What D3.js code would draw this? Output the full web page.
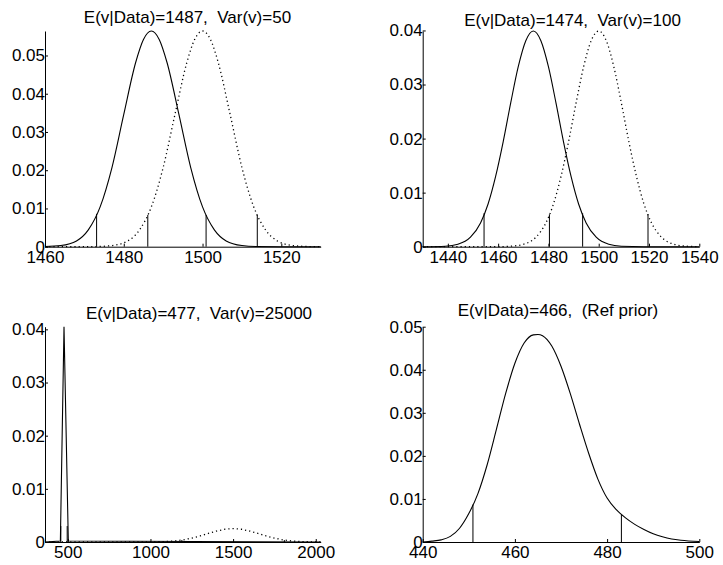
<!DOCTYPE html>
<html>
<head>
<meta charset="utf-8">
<script src="https://cdn.jsdelivr.net/npm/d3@7/dist/d3.min.js"></script>
<style>
  body { margin: 0; background: #fff; }
  svg text { font-family: "Liberation Sans", Arial, sans-serif; fill: #000; }
</style>
</head>
<body>
<svg id="chart" width="723" height="565"></svg>
<script>
// Titles of the four panels
const titles = [
    "E(v|Data)=1487,  Var(v)=50",
    "E(v|Data)=1474,  Var(v)=100",
    "E(v|Data)=477,  Var(v)=25000",
    "E(v|Data)=466,  (Ref prior)"
];

// Tick labels
const p1XTicks = [1460, 1480, 1500, 1520];
const p2XTicks = [1440, 1460, 1480, 1500, 1520, 1540];
const p3XTicks = [500, 1000, 1500, 2000];
const p4XTicks = [440, 460, 480, 500];
const p1YTicks = [0, 0.01, 0.02, 0.03, 0.04, 0.05];
const p2YTicks = [0, 0.01, 0.02, 0.03, 0.04];
const p3YTicks = [0, 0.01, 0.02, 0.03, 0.04];
const p4YTicks = [0, 0.01, 0.02, 0.03, 0.04, 0.05];

// Panel 1: posterior (solid) and prior (dotted) densities
const p1PostX = [1460, 1464, 1468, 1471, 1474, 1477, 1480, 1483, 1485, 1487, 1489, 1491, 1494, 1497, 1500, 1503, 1506, 1510, 1514, 1520, 1530];
const p1PostY = [0.00004, 0.0003, 0.0015, 0.0044, 0.0104, 0.0207, 0.0346, 0.0481, 0.0542, 0.0564, 0.0542, 0.0481, 0.0346, 0.0207, 0.0104, 0.0044, 0.0015, 0.0003, 0.00004, 0, 0];
const p1PriorX = [1460, 1470, 1473, 1477, 1481, 1484, 1487, 1490, 1493, 1496, 1498, 1500, 1502, 1504, 1507, 1510, 1513, 1516, 1519, 1523, 1527, 1530];
const p1PriorY = [0, 0.00001, 0.00004, 0.0003, 0.0015, 0.0044, 0.0104, 0.0207, 0.0346, 0.0481, 0.0542, 0.0564, 0.0542, 0.0481, 0.0346, 0.0207, 0.0104, 0.0044, 0.0015, 0.0003, 0.00004, 0.00001];
const p1Limits = [1473.1, 1500.9, 1486.1, 1513.9];
const p1LimitH = [0.0086, 0.0083, 0.0083, 0.0083];

// Panel 2
const p2PostX = [1430, 1439, 1444, 1449, 1453, 1456, 1459, 1462, 1465, 1468, 1471, 1474, 1477, 1480, 1483, 1486, 1489, 1492, 1495, 1499, 1504, 1509, 1518, 1540];
const p2PostY = [0, 0.00009, 0.00044, 0.00175, 0.0044, 0.0079, 0.0130, 0.0194, 0.0266, 0.0333, 0.0381, 0.0399, 0.0381, 0.0333, 0.0266, 0.0194, 0.0130, 0.0079, 0.0044, 0.00175, 0.00044, 0.00009, 0, 0];
const p2PriorX = [1430, 1460, 1465, 1470, 1475, 1479, 1482, 1485, 1488, 1491, 1494, 1497, 1500, 1503, 1506, 1509, 1512, 1515, 1518, 1521, 1525, 1530, 1535, 1540];
const p2PriorY = [0, 0.00001, 0.00009, 0.00044, 0.00175, 0.0044, 0.0079, 0.0130, 0.0194, 0.0266, 0.0333, 0.0381, 0.0399, 0.0381, 0.0333, 0.0266, 0.0194, 0.0130, 0.0079, 0.0044, 0.00175, 0.00044, 0.00009, 0.00001];
const p2Limits = [1454.4, 1493.6, 1480.4, 1519.6];
const p2LimitH = [0.0062, 0.0062, 0.006, 0.006];

// Panel 3
const p3PostX = [362, 455, 477, 503, 2030];
const p3PostY = [0, 0.0002, 0.0405, 0.0002, 0];
const p3PriorX = [362, 800, 900, 1000, 1050, 1100, 1150, 1200, 1250, 1300, 1350, 1400, 1450, 1500, 1550, 1600, 1650, 1700, 1750, 1800, 1850, 1900, 1950, 2000, 2030];
const p3PriorY = [0, 0, 0.000002, 0.000017, 0.000044, 0.000103, 0.000218, 0.000417, 0.000723, 0.001134, 0.001609, 0.002066, 0.0024, 0.002523, 0.0024, 0.002066, 0.001609, 0.001134, 0.000723, 0.000417, 0.000218, 0.000103, 0.000044, 0.000017, 0.000009];
const p3Limits = [457.7, 496.3, 1190, 1810];
const p3LimitH = [0.003, 0.003, 0.00037, 0.00037];

// Panel 4 (reference prior, posterior only)
const p4PostX = [440, 442, 444, 446, 448, 450, 452, 454, 456, 458, 460, 462, 464, 465, 466, 468, 470, 472, 474, 476, 478, 480, 482, 484, 486, 488, 490, 492, 494, 496, 500];
const p4PostY = [0, 0.0002, 0.0005, 0.0013, 0.0032, 0.0066, 0.0113, 0.018, 0.0262, 0.0345, 0.0415, 0.0462, 0.0481, 0.0482, 0.0479, 0.0455, 0.0408, 0.0345, 0.0274, 0.0206, 0.0146, 0.0102, 0.0075, 0.0056, 0.0041, 0.0029, 0.0019, 0.0012, 0.0007, 0.0004, 0.0001];
const p4Limits = [450.9, 483.1];
const p4LimitH = [0.0087, 0.0064];

const svg = d3.select("#chart");

const panels = [
    { left: 45, right: 320.7, top: 31, bottom: 246.7, xDomain: [1460, 1530], yMax: 0.0564,
      xTicks: p1XTicks, yTicks: p1YTicks, title: titles[0], tx: 187.5, ty: 23, smooth: true,
      lines: [{ x: p1PostX, y: p1PostY }, { x: p1PriorX, y: p1PriorY, dotted: true }],
      limits: p1Limits, limitH: p1LimitH },
    { left: 422.7, right: 699.3, top: 31, bottom: 246.7, xDomain: [1430, 1540], yMax: 0.0399,
      xTicks: p2XTicks, yTicks: p2YTicks, title: titles[1], tx: 572.5, ty: 25.5, smooth: true,
      lines: [{ x: p2PostX, y: p2PostY }, { x: p2PriorX, y: p2PriorY, dotted: true }],
      limits: p2Limits, limitH: p2LimitH },
    { left: 45, right: 320.7, top: 326.7, bottom: 542, xDomain: [362, 2030], yMax: 0.0405,
      xTicks: p3XTicks, yTicks: p3YTicks, title: titles[2], tx: 199, ty: 319, smooth: false,
      lines: [{ x: p3PostX, y: p3PostY }, { x: p3PriorX, y: p3PriorY, dotted: true }],
      limits: p3Limits, limitH: p3LimitH },
    { left: 422.7, right: 699.3, top: 326.7, bottom: 542, xDomain: [440, 500], yMax: 0.05,
      xTicks: p4XTicks, yTicks: p4YTicks, title: titles[3], tx: 558, ty: 316, smooth: true,
      lines: [{ x: p4PostX, y: p4PostY }],
      limits: p4Limits, limitH: p4LimitH }
];

const yFmt = d => d === 0 ? "0" : d3.format(".2f")(d);

panels.forEach(p => {
    const x = d3.scaleLinear().domain(p.xDomain).range([p.left, p.right]);
    const y = d3.scaleLinear().domain([0, p.yMax]).range([p.bottom, p.top]);
    const g = svg.append("g");

    // curves
    const line = d3.line()
        .x(d => x(d[0]))
        .y(d => y(d[1]))
        .curve(p.smooth ? d3.curveMonotoneX : d3.curveLinear);

    p.lines.forEach(s => {
        g.append("path")
            .datum(s.x.map((v, i) => [v, s.y[i]]))
            .attr("d", line)
            .attr("fill", "none")
            .attr("stroke", "#000")
            .attr("stroke-width", s.dotted ? 1.3 : 1.1)
            .attr("stroke-dasharray", s.dotted ? "1.2 3" : null);
    });

    // 95% interval lines
    p.limits.forEach((v, i) => {
        g.append("line")
            .attr("x1", x(v)).attr("x2", x(v))
            .attr("y1", y(0)).attr("y2", y(p.limitH[i]))
            .attr("stroke", "#000")
            .attr("stroke-width", 1);
    });

    // axes (ticks pointing inwards, like the original)
    g.append("g")
        .attr("transform", `translate(0,${p.bottom})`)
        .call(d3.axisBottom(x).tickValues(p.xTicks).tickSizeInner(-3).tickSizeOuter(0).tickPadding(4).tickFormat(d3.format("d")))
        .call(a => a.selectAll("text").style("font-size", "17px").attr("fill", "#000"));

    g.append("g")
        .attr("transform", `translate(${p.left},0)`)
        .call(d3.axisLeft(y).tickValues(p.yTicks).tickSizeInner(-3).tickSizeOuter(0).tickPadding(0).tickFormat(yFmt))
        .call(a => a.selectAll("text").style("font-size", "17px").attr("fill", "#000"));

    g.selectAll(".domain, .tick line").attr("stroke", "#000");

    g.append("text")
        .attr("x", p.tx)
        .attr("y", p.ty)
        .attr("text-anchor", "middle")
        .style("font-size", "17px")
        .style("white-space", "pre")
        .text(p.title);
});
</script>
</body>
</html>
